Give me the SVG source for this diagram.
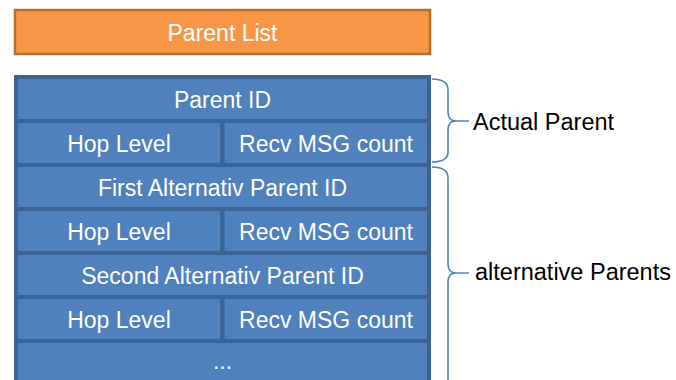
<svg xmlns="http://www.w3.org/2000/svg" width="676" height="380" viewBox="0 0 676 380">
<style>
.cell{fill:#4F81BD;stroke:#3B6394;stroke-width:4}
.t{font-family:"Liberation Sans",Arial,sans-serif;font-size:23px;fill:#FFFFFF;text-anchor:middle}
.lbl{font-family:"Liberation Sans",Arial,sans-serif;font-size:23.5px;fill:#000000}
.brace{fill:none;stroke:#4F81BD;stroke-width:1.6}
</style>
<rect width="676" height="380" fill="#FFFFFF"/>
<g id="parent-list">
<rect x="15" y="10" width="415" height="44" fill="#F79646" stroke="#B66D31" stroke-width="2.5"/>
<text class="t" x="222.5" y="40.5">Parent List</text>
</g>
<g id="table">
<g id="parent-id"><rect class="cell" x="16" y="77" width="413" height="44"/><text class="t" x="222.5" y="107.5">Parent ID</text></g>
<g id="hop-level-1"><rect class="cell" x="16" y="121" width="206.5" height="44"/><text class="t" x="119" y="151.5">Hop Level</text></g>
<g id="recv-1"><rect class="cell" x="222.5" y="121" width="206.5" height="44"/><text class="t" x="326" y="151.5">Recv MSG count</text></g>
<g id="first-alt"><rect class="cell" x="16" y="165" width="413" height="44"/><text class="t" x="222.5" y="195.5">First Alternativ Parent ID</text></g>
<g id="hop-level-2"><rect class="cell" x="16" y="209" width="206.5" height="44"/><text class="t" x="119" y="239.5">Hop Level</text></g>
<g id="recv-2"><rect class="cell" x="222.5" y="209" width="206.5" height="44"/><text class="t" x="326" y="239.5">Recv MSG count</text></g>
<g id="second-alt"><rect class="cell" x="16" y="253" width="413" height="44"/><text class="t" x="222.5" y="283.5">Second Alternativ Parent ID</text></g>
<g id="hop-level-3"><rect class="cell" x="16" y="297" width="206.5" height="44"/><text class="t" x="119" y="327.5">Hop Level</text></g>
<g id="recv-3"><rect class="cell" x="222.5" y="297" width="206.5" height="44"/><text class="t" x="326" y="327.5">Recv MSG count</text></g>
<g id="more"><rect class="cell" x="16" y="341" width="413" height="50"/><text class="t" x="222.5" y="369">...</text></g>
</g>
<g id="braces">
<path class="brace" d="M432,79 Q448,79 448,90 L448,112 Q448,121 456,121 L469,121 M456,121 Q448,121 448,130 L448,152 Q448,162 432,162"/>
<path class="brace" d="M432,167 Q448,167 448,178 L448,264 Q448,273 456,273 L469,273 M456,273 Q448,273 448,282 L448,392"/>
</g>
<g id="labels">
<text class="lbl" x="473" y="130">Actual Parent</text>
<text class="lbl" x="475" y="280">alternative Parents</text>
</g>
</svg>
